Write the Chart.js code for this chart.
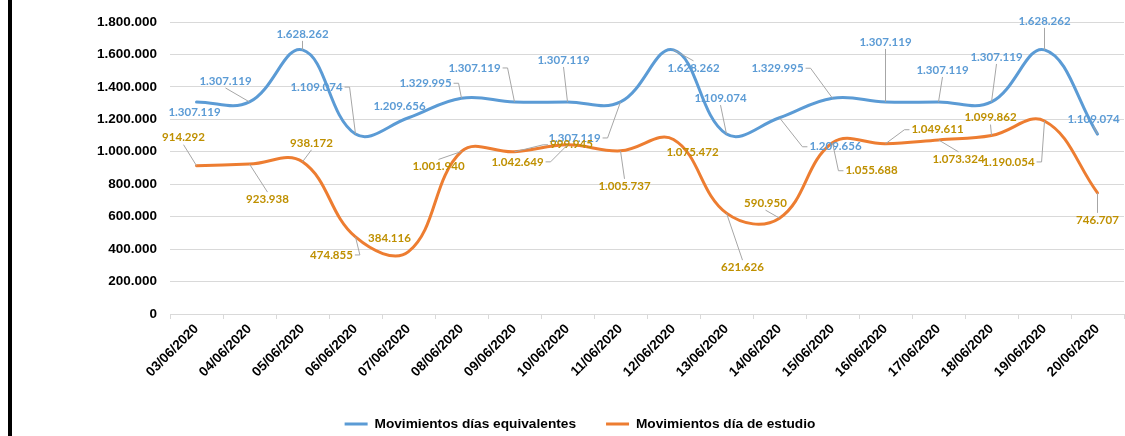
<!DOCTYPE html>
<html>
<head>
<meta charset="utf-8">
<title>Movimientos</title>
<script src="https://cdn.jsdelivr.net/npm/chart.js"></script>
<style>
    html, body { margin: 0; padding: 0; background: #fff; }
    #wrap { position: relative; width: 1125px; height: 436px; }
    #frame { position: absolute; left: 8px; top: 0; width: 4px; height: 436px; background: #000; }
</style>
</head>
<body>
<div id="wrap">
    <canvas id="movChart" width="1125" height="436"></canvas>
    <div id="frame"></div>
</div>
<script>
let fechas = ['03/06/2020', '04/06/2020', '05/06/2020', '06/06/2020', '07/06/2020', '08/06/2020',
    '09/06/2020', '10/06/2020', '11/06/2020', '12/06/2020', '13/06/2020', '14/06/2020',
    '15/06/2020', '16/06/2020', '17/06/2020', '18/06/2020', '19/06/2020', '20/06/2020'];

let diasEquivalentes = [1307119, 1307119, 1628262, 1109074, 1209656, 1329995,
    1307119, 1307119, 1307119, 1628262, 1109074, 1209656,
    1329995, 1307119, 1307119, 1307119, 1628262, 1109074];

let diaEstudio = [914292, 923938, 938172, 474855, 384116, 1001940,
    999945, 1042649, 1005737, 1075472, 621626, 590950,
    1055688, 1049611, 1073324, 1099862, 1190054, 746707];

let yMax = 1800000;
let yPaso = 200000;

// where each data label sits, relative to its point (dx, dy)
let posEquivalentes = [[-2, 10], [-24, -21], [0, -16], [-39, -47], [-9, -11], [-36, -15],
    [-40, -34], [-4, -42], [-46, 36], [20, 18], [-6, -36], [56, 29],
    [-55, -30], [0, -60], [4, -32], [5, -45], [0, -29], [-4, -15]];
let posEstudio = [[-13, -28], [18, 35], [9, -19], [-24, 18], [-19, -13], [-23, 15],
    [57, -7], [-50, 17], [4, 35], [19, 13], [16, 54], [-14, -15],
    [39, 28], [52, -14], [20, 19], [-1, -18], [-36, 41], [0, 27]];

let fuente = "'Liberation Sans', Arial, sans-serif";

function miles(v) {
    return String(v).replace(/\B(?=(\d{3})+(?!\d))/g, '.');
}

// data labels with leader lines, like the Excel original
const etiquetas = {
    id: 'etiquetas',
    afterDatasetsDraw(chart) {
        const ctx = chart.ctx;
        const posiciones = [posEquivalentes, posEstudio];
        const colores = ['#5b9bd5', '#bf9000'];
        ctx.save();
        ctx.font = 'bold 11.5px Lato';
        ctx.textAlign = 'center';
        ctx.textBaseline = 'middle';
        chart.data.datasets.forEach((ds, d) => {
            const meta = chart.getDatasetMeta(d);
            meta.data.forEach((pt, i) => {
                const txt = miles(ds.data[i]);
                const cx = pt.x + posiciones[d][i][0];
                const cy = pt.y + posiciones[d][i][1];
                const w = ctx.measureText(txt).width / 2 + 2;
                const h = 7;
                const cerca = pt.x > cx - w - 7 && pt.x < cx + w + 7 && pt.y > cy - h - 7 && pt.y < cy + h + 7;
                if (!cerca) {
                    ctx.strokeStyle = '#a6a6a6';
                    ctx.lineWidth = 1;
                    ctx.beginPath();
                    if (pt.x > cx + w) {
                        ctx.moveTo(cx + w, cy);
                        ctx.lineTo(cx + w + 5, cy);
                    } else if (pt.x < cx - w) {
                        ctx.moveTo(cx - w, cy);
                        ctx.lineTo(cx - w - 5, cy);
                    } else if (pt.y > cy) {
                        ctx.moveTo(cx, cy + h);
                    } else {
                        ctx.moveTo(cx, cy - h);
                    }
                    ctx.lineTo(pt.x, pt.y);
                    ctx.stroke();
                }
                ctx.fillStyle = colores[d];
                ctx.fillText(txt, cx, cy);
            });
        });
        ctx.restore();
    }
};

// push the legend down/right to where the original has it
const moverLeyenda = {
    id: 'moverLeyenda',
    afterLayout(chart) {
        const lg = chart.legend;
        const pad = lg.options.labels.padding;
        const alto = lg.options.labels.font.size;
        const dy = 424 - (lg.top + pad + alto / 2);
        lg.top += dy;
        lg.bottom += dy;
        lg.left += 18;
        lg.right += 18;
    }
};

let ctx = document.getElementById('movChart').getContext('2d');
let movChart = new Chart(ctx, {
    type: 'line',
    data: {
        labels: fechas,
        datasets: [{
            label: 'Movimientos días equivalentes',
            data: diasEquivalentes,
            borderColor: '#5b9bd5',
            backgroundColor: '#5b9bd5',
            borderWidth: 3,
            pointRadius: 0,
            tension: 0.4,
            borderCapStyle: 'round'
        }, {
            label: 'Movimientos día de estudio',
            data: diaEstudio,
            borderColor: '#ed7d31',
            backgroundColor: '#ed7d31',
            borderWidth: 3,
            pointRadius: 0,
            tension: 0.4,
            borderCapStyle: 'round'
        }]
    },
    options: {
        responsive: false,
        animation: false,
        layout: { padding: { top: 22, right: 1, left: 0, bottom: 0 } },
        plugins: {
            legend: {
                position: 'bottom',
                labels: {
                    usePointStyle: true,
                    pointStyle: 'line',
                    pointStyleWidth: 23,
                    padding: 30,
                    color: '#000',
                    font: { family: fuente, size: 13.7, weight: 'bold' }
                }
            },
            tooltip: { enabled: false }
        },
        scales: {
            x: {
                offset: true,
                grid: { offset: true, drawOnChartArea: false, tickLength: 5, color: '#d9d9d9' },
                border: { color: '#d9d9d9' },
                ticks: {
                    autoSkip: false,
                    maxRotation: 45,
                    minRotation: 45,
                    padding: 2,
                    color: '#000',
                    font: { family: fuente, size: 13.5, weight: 'bold' }
                },
                afterFit(scale) { scale.height = 68.3; }
            },
            y: {
                min: 0,
                max: yMax,
                grid: { color: '#d9d9d9', drawTicks: false },
                border: { display: false },
                ticks: {
                    stepSize: yPaso,
                    padding: 13,
                    color: '#000',
                    font: { family: fuente, size: 13.5, weight: 'bold' },
                    callback: (v) => miles(v)
                },
                afterFit(scale) { scale.width = 170; }
            }
        }
    },
    plugins: [etiquetas, moverLeyenda]
});
</script>
</body>
</html>
